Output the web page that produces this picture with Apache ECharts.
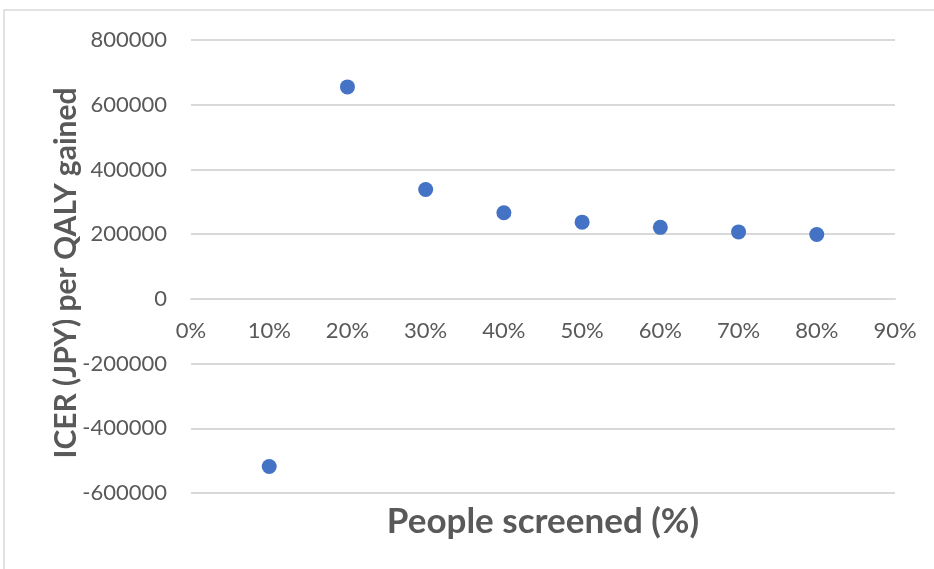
<!DOCTYPE html>
<html>
<head>
<meta charset="utf-8">
<script src="https://cdn.jsdelivr.net/npm/echarts@6/dist/echarts.min.js"></script>
<style>
  html, body { margin: 0; padding: 0; background: #fff; }
  #chart { width: 934px; height: 569px; }
</style>
</head>
<body>
<div id="chart"></div>
<script>
// Share of people screened (%) and the resulting ICER in JPY per QALY gained
const screenedPct = [10, 20, 30, 40, 50, 60, 70, 80];
const icerValues = [-518000, 655000, 338000, 266000, 237000, 221000, 207000, 199000];

// Axis settings
const xTicks = { min: 0, max: 90, step: 10 };
const yTicks = { min: -600000, max: 800000, step: 200000 };

const xTitle = 'People screened (%)';
const yTitle = 'ICER (JPY) per QALY gained';

const FONT = 'Lato, "Open Sans", "Liberation Sans", sans-serif';
const TEXT_GRAY = '#595959';
const GRID_GRAY = '#d9d9d9';

const chart = echarts.init(document.getElementById('chart'), null, { renderer: 'canvas' });

chart.setOption({
  animation: false,
  backgroundColor: '#ffffff',
  textStyle: { fontFamily: FONT },
  grid: { left: 191, right: 39, top: 40, bottom: 76, containLabel: false },
  xAxis: {
    type: 'value',
    min: xTicks.min,
    max: xTicks.max,
    interval: xTicks.step,
    offset: 0,
    axisLine: { show: true, onZero: false, lineStyle: { color: GRID_GRAY, width: 2 } },
    axisTick: { show: false },
    splitLine: { show: false },
    axisLabel: {
      color: TEXT_GRAY,
      fontSize: 22,
      fontFamily: FONT,
      margin: 21,
      formatter: v => v + '%'
    }
  },
  yAxis: {
    type: 'value',
    min: yTicks.min,
    max: yTicks.max,
    interval: yTicks.step,
    axisLine: { show: false },
    axisTick: { show: false },
    splitLine: { show: true, lineStyle: { color: GRID_GRAY, width: 2 } },
    axisLabel: {
      color: TEXT_GRAY,
      fontSize: 22,
      fontFamily: FONT,
      margin: 24,
      formatter: v => String(v)
    }
  },
  graphic: [
    {
      type: 'rect',
      silent: true,
      shape: { x: 4, y: 10, width: 960, height: 600 },
      style: { fill: 'none', stroke: GRID_GRAY, lineWidth: 1.5 },
      z: -1
    },
    {
      type: 'text',
      x: 66,
      y: 273,
      rotation: Math.PI / 2,
      style: {
        text: yTitle,
        fill: TEXT_GRAY,
        font: 'bold 30px ' + FONT,
        textAlign: 'center',
        textVerticalAlign: 'middle'
      }
    },
    {
      type: 'text',
      x: 543,
      y: 522,
      style: {
        text: xTitle,
        fill: TEXT_GRAY,
        font: 'bold 35px ' + FONT,
        textAlign: 'center',
        textVerticalAlign: 'middle'
      }
    }
  ],
  series: [
    {
      type: 'scatter',
      data: screenedPct.map((x, i) => [x, icerValues[i]]),
      symbol: 'circle',
      symbolSize: 15,
      itemStyle: { color: '#4472C4', opacity: 1 }
    }
  ]
});

// Move the horizontal axis (line and labels) up so it crosses the value axis at zero.
const zeroY = chart.convertToPixel({ yAxisIndex: 0 }, 0);
const bottomY = chart.convertToPixel({ yAxisIndex: 0 }, yTicks.min);
chart.setOption({ xAxis: { offset: -(bottomY - zeroY) } });
</script>
</body>
</html>
